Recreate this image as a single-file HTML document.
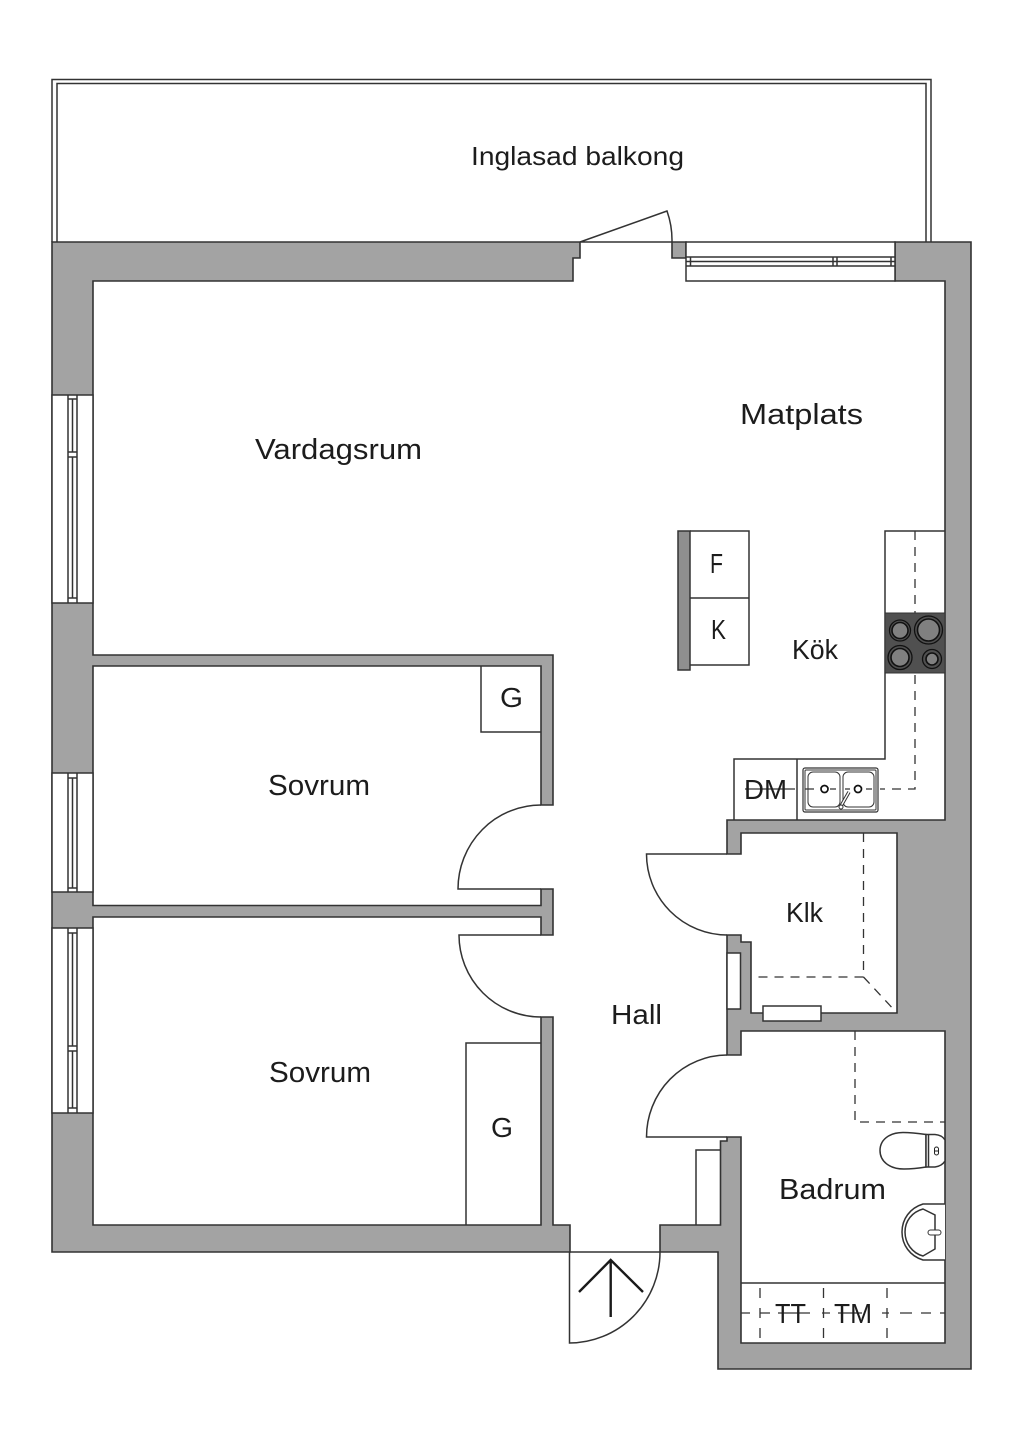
<!DOCTYPE html>
<html><head><meta charset="utf-8"><style>
html,body{margin:0;padding:0;background:#fff}
svg{display:block}
text{font-family:"Liberation Sans",sans-serif;fill:#1c1c1c;font-size:28px}
.w{fill:#a3a3a3;stroke:#333;stroke-width:1.6;stroke-linejoin:miter}
.l{fill:none;stroke:#333;stroke-width:1.5}
.f{fill:#fff;stroke:#333;stroke-width:1.5}
.d{fill:none;stroke:#333;stroke-width:1.3;stroke-dasharray:9 7}
.s{fill:none;stroke:#333;stroke-width:1.3}
</style></head><body>
<svg width="1024" height="1449" viewBox="0 0 1024 1449" xmlns="http://www.w3.org/2000/svg">
<rect width="1024" height="1449" fill="#fff"/>
<!-- balcony -->
<path class="l" d="M52 242V79.500H931V242"/>
<path class="l" d="M57 242V83.500H926V242"/>
<!-- walls -->
<path class="w" d="M52 242H580V258H573V281H93V655H553V805H541V666H93V905.500H541V889H553V935H541V917H93V1225H541V1017H553V1225H570V1252H52Z"/>
<path class="w" d="M672 242H686V258H672Z"/>
<path class="w" d="M895 242H971V1369H718V1252H660V1225H720.500V1141H727V1137H741V1343H945V1031H741V1055H727V935H741V942H751V1013H897V833H741V854H727V820H945V281H895Z"/>
<!-- top window -->
<rect class="f" x="686" y="242" width="209" height="39"/>
<path class="l" d="M686 257H895M686 261.500H895M686 266H895M690.500 257V266M833 257V266M837 257V266M891 257V266"/>
<!-- left windows -->
<g>
<rect class="f" x="52" y="395" width="41" height="208"/>
<path class="l" d="M68 395V603M77 395V603M72.500 399V452M72.500 457V598M68 399H77M68 452H77M68 457H77M68 598H77"/>
<rect class="f" x="52" y="773" width="41" height="119"/>
<path class="l" d="M68 773V892M77 773V892M72.500 778V888M68 778H77M68 888H77"/>
<rect class="f" x="52" y="928" width="41" height="185"/>
<path class="l" d="M68 928V1113M77 928V1113M72.500 933V1046M72.500 1051V1108M68 933H77M68 1046H77M68 1051H77M68 1108H77"/>
</g>
<!-- balcony door -->
<path class="l" d="M580 242H672M580 242L667 211A88 88 0 0 1 672 242"/>
<!-- bedroom doors -->
<path class="l" d="M541 805A83 84 0 0 0 458 889H541"/>
<path class="l" d="M541 1017A82 82 0 0 1 459 935H541"/>
<!-- closets -->
<path class="l" d="M481 666V732H541"/>
<path class="l" d="M466 1225V1043H541"/>
<path class="l" d="M696 1225V1150H720.500"/>
<!-- fridge / freezer -->
<rect x="678" y="531" width="12" height="139" fill="#8f8f8f" stroke="#333" stroke-width="1.5"/>
<path class="l" d="M690 531H749V665H690M690 598H749"/>
<!-- kitchen counter -->
<path class="l" d="M945 531H885V759H734V820M797 759V820"/>
<path class="d" d="M915 531V789H880"/>
<rect x="885" y="613" width="60" height="60" fill="#505050" stroke="#333" stroke-width="1"/>
<g fill="#505050" stroke="#111" stroke-width="1.300">
<circle cx="900" cy="630.500" r="10.500"/><circle cx="928.500" cy="630" r="14"/><circle cx="900" cy="657.500" r="12"/><circle cx="932" cy="659" r="9.500"/>
</g>
<g fill="#808080" stroke="#111" stroke-width="1.600">
<circle cx="900" cy="630.500" r="8"/><circle cx="928.500" cy="630" r="11"/><circle cx="900" cy="657.500" r="9"/><circle cx="932" cy="659" r="6"/>
</g>
<!-- sink -->
<rect x="803" y="768" width="75" height="44" rx="2" fill="#fff" stroke="#333" stroke-width="1.2"/>
<rect x="805" y="770" width="71" height="40" rx="1" fill="none" stroke="#333" stroke-width="1"/>
<rect x="808" y="772" width="32" height="35" rx="5" fill="none" stroke="#333" stroke-width="1"/>
<rect x="843" y="772" width="31" height="35" rx="5" fill="none" stroke="#333" stroke-width="1"/>
<path class="s" d="M745 789H795M805 789H814M830 789H836M845 789H850M866 789H872"/>
<circle cx="824.500" cy="789" r="3.500" fill="#fff" stroke="#111" stroke-width="1.700"/>
<circle cx="858" cy="789" r="3.500" fill="#fff" stroke="#111" stroke-width="1.700"/>
<path d="M841 806L849 792" stroke="#333" stroke-width="3.400" fill="none"/>
<path d="M841 806L849 792" stroke="#fff" stroke-width="1.400" fill="none"/>
<circle cx="841" cy="807" r="2" fill="#fff" stroke="#333"/>
<!-- klk door -->
<path class="l" d="M727 854H646.500A81 81 0 0 0 727 935"/>
<!-- shaft / vent -->
<rect class="f" x="727" y="953" width="13.500" height="56"/>
<rect class="f" x="763" y="1006" width="58" height="15"/>
<path class="d" d="M863.500 833V977H753"/>
<path class="d" d="M863.500 977L897 1013"/>
<!-- bath door -->
<path class="l" d="M727 1055A81 82 0 0 0 646.500 1137H727"/>
<!-- bath -->
<path class="d" d="M855 1031V1122H945"/>
<path class="l" d="M741 1283H945"/>
<path class="s" d="M741 1313H750M760 1313H770M778 1313H810M822 1313H830M838 1313H862M882 1313H889M900 1313H912M921 1313H931M940 1313H945"/>
<path class="s" d="M760 1288V1298M760 1308V1318M760 1328V1338M823.500 1288V1298M823.500 1308V1318M823.500 1328V1338M887 1288V1298M887 1308V1318M887 1328V1338"/>
<!-- toilet -->
<path class="f" d="M926 1134.500Q912 1132.500 903 1132.500C889 1132.500 880 1140 880 1150.500C880 1161 889 1169 904 1169Q914 1169 926 1167Z"/>
<path class="f" d="M926 1134.500H935Q942 1135 945 1140V1161Q942 1166 935 1167H926Z"/>
<path class="l" d="M928.500 1134.500V1167"/>
<rect x="934.500" y="1147" width="4" height="8" rx="2" fill="#fff" stroke="#222" stroke-width="1"/>
<path stroke="#222" d="M934.500 1151H938.500"/>
<!-- washbasin -->
<path class="f" d="M945 1204H923C910 1208 902 1219 902 1232C902 1245 910 1256 923 1260H945"/>
<path class="l" d="M923 1209L935 1215V1249L923 1256C912 1253 905 1243 905 1232C905 1221 912 1212 923 1209Z"/>
<rect x="928" y="1230" width="13" height="5" rx="2.500" fill="#fff" stroke="#333" stroke-width="1"/>
<!-- entry door -->
<path class="l" d="M570 1252H660A91 91 0 0 1 569.500 1343V1252"/>
<path fill="none" stroke="#1a1a1a" stroke-width="2.400" d="M610.700 1317V1260M579 1292L610.700 1260L643 1292"/>
<!-- labels -->
<g>
<text x="471" y="165" style="font-size:26px" textLength="213" lengthAdjust="spacingAndGlyphs">Inglasad balkong</text>
<text x="255" y="459" style="font-size:29px" textLength="167" lengthAdjust="spacingAndGlyphs">Vardagsrum</text>
<text x="740" y="424" style="font-size:29px" textLength="123" lengthAdjust="spacingAndGlyphs">Matplats</text>
<text x="710" y="573" textLength="13" lengthAdjust="spacingAndGlyphs">F</text>
<text x="711" y="639" textLength="15" lengthAdjust="spacingAndGlyphs">K</text>
<text x="792" y="659" textLength="46" lengthAdjust="spacingAndGlyphs">Kök</text>
<text x="500" y="707" textLength="23" lengthAdjust="spacingAndGlyphs">G</text>
<text x="268" y="795" style="font-size:29px" textLength="102" lengthAdjust="spacingAndGlyphs">Sovrum</text>
<text x="269" y="1082" style="font-size:29px" textLength="102" lengthAdjust="spacingAndGlyphs">Sovrum</text>
<text x="786" y="922" textLength="37" lengthAdjust="spacingAndGlyphs">Klk</text>
<text x="611" y="1024" textLength="51" lengthAdjust="spacingAndGlyphs">Hall</text>
<text x="491" y="1137" textLength="22" lengthAdjust="spacingAndGlyphs">G</text>
<text x="779" y="1199" style="font-size:29px" textLength="107" lengthAdjust="spacingAndGlyphs">Badrum</text>
<text x="744" y="799" textLength="43" lengthAdjust="spacingAndGlyphs">DM</text>
<text x="775" y="1323" textLength="31" lengthAdjust="spacingAndGlyphs">TT</text>
<text x="834" y="1323" textLength="38" lengthAdjust="spacingAndGlyphs">TM</text>
</g>
</svg>
</body></html>
